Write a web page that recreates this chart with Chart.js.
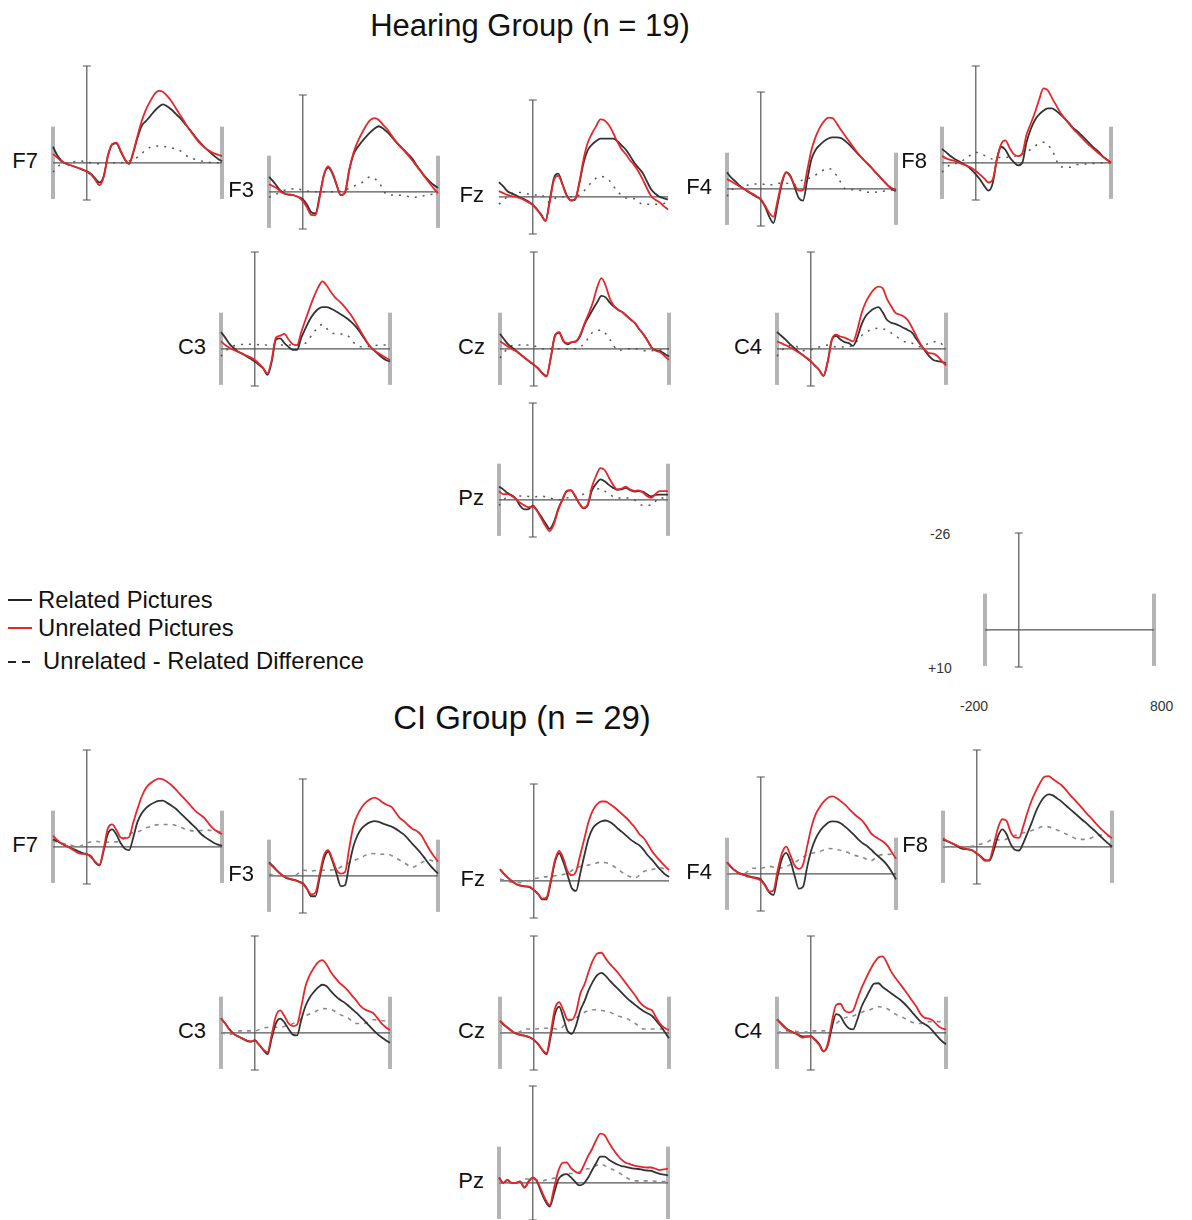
<!DOCTYPE html>
<html>
<head>
<meta charset="utf-8">
<script src="https://cdn.jsdelivr.net/npm/chart.js@4.4.0/dist/chart.umd.min.js"></script>
<style>
  body { margin: 0; background: #fff; }
  #page { position: relative; width: 1192px; height: 1220px; overflow: hidden; font-family: "Liberation Sans", Arial, sans-serif; color: #111; }
  canvas { position: absolute; }
  .title { position: absolute; font-size: 31px; white-space: nowrap; transform: translate(-50%, -50%); }
  .lab { position: absolute; font-size: 22px; line-height: 22px; text-align: right; white-space: nowrap; }
  .leg { position: absolute; font-size: 23.8px; line-height: 24px; white-space: nowrap; }
  .sw { position: absolute; height: 2px; }
  .tick { position: absolute; font-size: 14px; line-height: 14px; color: #333; white-space: nowrap; }
</style>
</head>
<body>
<div id="page">
  <div class="title" style="left:530px; top:26px;">Hearing Group (n = 19)</div>
  <div class="title" style="left:522px; top:718px; font-size:33px;">CI Group (n = 29)</div>

  <div class="sw" style="left:8px; top:599px; width:24px; background:#222;"></div>
  <div class="leg" style="left:38px; top:588px;">Related Pictures</div>
  <div class="sw" style="left:8px; top:627px; width:24px; background:#e8262a;"></div>
  <div class="leg" style="left:38px; top:616px;">Unrelated Pictures</div>
  <div class="sw" style="left:8px; top:661px; width:8px; background:#222;"></div>
  <div class="sw" style="left:22px; top:661px; width:8px; background:#222;"></div>
  <div class="leg" style="left:43px; top:649px;">Unrelated - Related Difference</div>

  <div class="tick" style="left:930px; top:527px;">-26</div>
  <div class="tick" style="left:928px; top:661px;">+10</div>
  <div class="tick" style="left:960px; top:699px;">-200</div>
  <div class="tick" style="left:1150px; top:699px;">800</div>
</div>
<script>
// time points (ms) for the waveforms and for the difference waves
const times = [-200,-175,-150,-125,-100,-75,-50,-25,0,25,50,75,100,125,150,175,200,225,250,275,
  300,325,350,375,400,425,450,475,500,525,550,575,600,625,650,675,700,725,750,775,800];
const diffTimes = [-200,-150,-100,-50,0,50,100,150,200,250,300,350,400,450,500,550,600,650,700,750,800];

// ---- Hearing group (µV) ----
const hearF7Rel = [-4.3,-2.0,-0.6,0.2,0.6,1.0,1.4,1.9,2.3,3.0,4.2,5.3,3.6,-1.8,-4.9,-5.2,-3.1,-0.9,0.3,-2.7,
  -6.7,-9.9,-11.2,-12.5,-13.9,-15.0,-15.7,-15.2,-14.3,-13.2,-12.1,-10.8,-9.4,-8.0,-6.5,-5.2,-4.0,-3.0,-2.0,-1.1,-0.4];
const hearF7Unrel = [-2.4,-1.4,-0.4,0.2,0.6,1.0,1.4,1.8,2.4,3.2,4.6,6.0,3.8,-2.0,-5.0,-5.4,-3.3,-1.0,0.2,-2.9,
  -7.2,-11.2,-14.3,-16.5,-18.4,-19.3,-19.1,-18.0,-16.6,-14.8,-13.0,-11.2,-9.4,-7.8,-6.3,-5.0,-4.0,-3.2,-2.6,-2.2,-1.8];
const hearF7Diff = [2.5,0.3,0,-0.5,-0.3,0.3,0.2,0,0,-0.5,-1.5,-3.5,-4.5,-4.4,-4.0,-3.3,-1.6,-0.8,-0.3,0,0];

const hearF3Rel = [-4.0,-2.8,-1.3,0.0,0.6,0.8,1.0,1.4,2.0,3.5,5.5,5.8,1.0,-4.5,-6.5,-4.9,-1.8,0.9,0.3,-5.8,
  -10.0,-12.0,-13.5,-14.8,-16.0,-17.0,-17.6,-17.0,-16.0,-14.8,-13.5,-12.3,-11.2,-10.0,-8.8,-7.0,-5.5,-4.0,-2.8,-1.8,-1.0];
const hearF3Unrel = [-2.0,-1.5,-0.8,0.2,0.6,0.8,1.0,1.5,2.5,4.2,6.2,6.3,1.5,-4.5,-6.8,-5.2,-2.0,0.9,0.0,-6.0,
  -10.5,-13.5,-15.8,-17.8,-19.3,-19.8,-19.3,-18.0,-16.8,-15.2,-13.6,-12.2,-11.0,-9.7,-8.3,-6.8,-5.3,-3.8,-2.3,-0.9,0.4];
const hearF3Diff = [1.5,0.5,-0.5,-0.8,-0.5,0,0,0,0,-0.5,-1.5,-2.5,-4.0,-2.5,0.8,0.9,1.0,1.5,1.2,0.8,0.5];

const hearFzRel = [-3.9,-2.8,-1.5,-0.9,-0.4,0.2,0.7,1.3,2.1,3.4,4.8,6.5,1.0,-5.0,-6.2,-3.5,-0.5,1.0,0.8,-3.5,
  -9.0,-12.5,-14.0,-15.0,-15.6,-15.6,-15.6,-15.6,-15.0,-13.8,-12.7,-11.0,-9.2,-7.8,-6.4,-4.2,-2.0,-0.8,0.0,0.4,0.7];
const hearFzUnrel = [-1.5,-1.0,-0.5,-0.2,0.0,0.4,0.9,1.5,2.2,3.5,5.0,6.5,1.5,-4.5,-5.6,-3.3,-0.3,0.9,0.6,-3.8,
  -10.0,-14.5,-17.0,-19.0,-20.8,-20.5,-19.3,-17.2,-14.8,-12.8,-11.5,-9.8,-8.5,-6.8,-4.7,-2.3,-0.2,0.8,1.5,2.5,3.4];
const hearFzDiff = [2.0,0,-1.2,-1.0,-0.5,-0.5,1.5,0,0,0,-1.5,-4.0,-5.5,-4.5,-1.5,0.3,0.5,2.0,2.0,2.0,1.5];

const hearF4Rel = [-4.4,-3.0,-2.0,-0.8,0.0,0.8,1.5,2.2,2.9,4.8,7.5,9.2,4.0,-1.5,-4.4,-3.5,-0.5,2.5,3.2,-2.5,
  -8.0,-10.5,-11.8,-12.8,-13.5,-13.8,-13.8,-13.6,-12.8,-11.8,-10.6,-9.3,-8.2,-7.0,-5.9,-4.6,-3.4,-2.2,-1.0,0.0,0.6];
const hearF4Unrel = [-2.6,-2.0,-1.3,-0.6,0.0,0.7,1.3,2.0,2.8,4.5,6.5,7.5,3.0,-2.0,-4.5,-3.2,-1.0,0.5,0.3,-5.0,
  -10.5,-14.0,-16.5,-18.2,-19.1,-19.0,-17.5,-15.8,-14.2,-12.6,-11.0,-9.5,-8.2,-7.0,-5.9,-4.6,-3.4,-2.2,-1.0,-0.2,0.4];
const hearF4Diff = [2.0,-0.5,-0.8,-1.2,-1.3,-1.0,-1.5,-1.5,-1.0,-2.5,-3.0,-4.5,-5.5,-3.5,0,0.3,0.5,1.0,0.8,0.5,0.2];

const hearF8Rel = [-3.7,-2.8,-1.8,-1.0,-0.4,0.3,0.9,1.9,3.1,4.5,6.2,7.5,5.5,-1.0,-4.3,-3.5,-1.5,-0.2,0.7,0.0,
  -5.5,-9.0,-11.5,-13.0,-14.0,-14.6,-14.6,-14.0,-13.0,-11.9,-10.7,-9.4,-8.5,-7.4,-6.3,-5.1,-4.0,-3.0,-1.8,-0.9,-0.1];
const hearF8Unrel = [-1.8,-1.2,-0.8,-0.5,0.0,0.4,0.9,1.4,2.2,3.2,4.2,5.3,4.5,-1.0,-5.0,-6.0,-4.0,-2.3,-1.8,-2.5,
  -7.5,-10.5,-13.5,-17.0,-20.0,-19.5,-17.5,-15.5,-13.5,-12.0,-10.6,-9.2,-8.0,-6.8,-5.6,-4.6,-3.6,-2.6,-1.7,-0.8,0.0];
const hearF8Diff = [2.5,0.5,0,-1.5,-2.8,-2.0,-1.0,-1.5,-1.5,-2.0,-2.8,-4.5,-5.5,-3.5,1.0,1.2,0.5,0.3,0.2,0,0];

const hearC3Rel = [-4.5,-3.0,-1.3,-0.2,0.7,1.3,2.0,2.7,3.4,4.3,5.3,7.0,3.5,-2.5,-2.8,-1.5,-0.5,0.3,0.3,-3.0,
  -5.5,-7.8,-9.5,-10.7,-11.2,-11.2,-10.8,-10.2,-9.5,-8.8,-8.0,-7.0,-5.8,-4.3,-2.6,-1.0,0.2,1.2,2.2,3.0,3.4];
const hearC3Unrel = [-2.0,-1.0,-0.3,0.3,0.8,1.3,1.8,2.3,3.0,4.0,5.2,6.6,3.0,-3.0,-3.5,-4.0,-2.5,-1.2,-1.0,-4.5,
  -7.8,-11.0,-14.0,-16.5,-18.1,-17.0,-15.3,-13.8,-12.8,-11.6,-10.2,-8.7,-6.8,-4.8,-2.9,-1.0,0.2,1.0,1.7,2.4,3.0];
const hearC3Diff = [2.0,-0.3,-1.0,-1.2,-1.2,-1.0,-1.0,-1.0,-1.0,-1.0,-1.5,-4.5,-6.5,-4.3,-4.0,-3.5,-1.0,-0.5,-0.8,-1.0,-1.0];

const hearCzRel = [-4.0,-2.5,-1.1,-0.2,0.7,1.7,2.6,3.5,4.3,5.2,6.5,7.3,2.5,-3.5,-4.3,-2.0,-1.2,-1.8,-2.0,-3.5,
  -6.5,-8.6,-10.6,-12.5,-14.2,-13.8,-12.4,-11.3,-10.5,-9.8,-8.8,-7.8,-6.8,-5.2,-3.8,-2.0,-0.2,0.4,0.7,1.4,2.1];
const hearCzUnrel = [-2.0,-1.3,-0.5,0.2,0.8,1.6,2.5,3.4,4.3,5.3,6.6,7.5,2.5,-3.5,-4.5,-2.2,-1.5,-1.8,-2.0,-3.8,
  -6.8,-9.5,-12.5,-16.5,-19.0,-17.0,-13.5,-11.5,-10.4,-9.8,-8.8,-7.8,-6.8,-5.2,-3.8,-2.0,-0.2,0.6,1.0,2.0,3.0];
const hearCzDiff = [2.5,-0.3,-1.0,-1.0,-0.8,0,0,0,0,0,-1.5,-4.5,-5.0,-2.5,0.5,0,0,0.5,0.5,0.3,0];

const hearC4Rel = [-4.5,-3.5,-2.5,-1.3,-0.3,0.7,1.6,2.5,3.4,4.6,5.7,7.3,3.5,-2.5,-3.5,-2.5,-1.8,-1.5,-0.8,-3.0,
  -6.5,-8.8,-10.0,-10.8,-11.2,-9.8,-7.8,-7.0,-6.7,-6.2,-5.6,-5.0,-4.3,-2.6,-1.0,0.5,2.0,3.0,3.3,3.5,3.9];
const hearC4Unrel = [-2.0,-1.5,-1.0,-0.4,0.2,0.9,1.6,2.4,3.3,4.5,5.7,7.3,3.5,-2.5,-3.8,-3.3,-3.0,-2.5,-2.0,-5.0,
  -9.5,-12.5,-14.5,-16.0,-16.7,-16.3,-13.5,-11.5,-9.7,-9.2,-8.7,-7.6,-5.6,-3.4,-1.2,0.3,1.2,1.3,2.0,3.3,4.5];
const hearC4Diff = [2.0,-0.5,-1.0,0.5,0.3,-0.5,-1.0,-0.5,-0.5,-1.0,-3.5,-5.0,-5.5,-5.0,-3.5,-2.0,-1.5,-0.5,-1.5,-2.0,0];

const hearPzRel = [-3.5,-2.8,-1.8,-1.2,-0.3,1.6,2.6,2.5,1.6,2.8,4.5,6.3,7.8,6.0,2.5,0.0,-2.2,-2.5,-1.0,1.0,
  2.3,1.5,-2.5,-4.3,-5.5,-5.0,-4.0,-3.2,-2.7,-2.8,-3.2,-2.6,-2.2,-2.3,-2.2,-1.5,-0.9,-1.3,-1.4,-1.4,-1.4];
const hearPzUnrel = [-2.3,-1.5,-1.5,-1.0,-0.2,0.8,1.5,2.0,1.8,3.0,5.0,7.0,8.4,6.5,2.8,0.0,-2.4,-2.6,-1.0,1.0,
  2.2,1.2,-3.5,-6.5,-8.5,-8.0,-6.0,-4.0,-2.8,-3.0,-3.5,-2.8,-2.4,-2.5,-2.0,-1.0,-0.5,-1.5,-2.3,-2.3,-2.3];
const hearPzDiff = [1.5,-0.8,-1.0,-1.0,-0.8,-1.0,-0.5,0,-0.5,-1.0,-1.5,-2.5,-3.0,-1.5,-0.5,-0.5,0,1.5,1.5,-0.5,-0.5];

// ---- CI group (µV) ----
const ciF7Rel = [-2.0,-1.5,-0.9,-0.3,0.2,0.7,1.2,1.7,2.0,2.5,4.2,5.0,1.0,-3.5,-4.7,-3.3,-1.0,0.5,0.9,-2.5,
  -6.7,-9.0,-10.4,-11.3,-11.9,-12.3,-12.4,-11.8,-11.1,-10.3,-9.2,-8.1,-7.0,-5.9,-4.8,-3.5,-2.6,-1.8,-1.1,-0.6,-0.3];
const ciF7Unrel = [-3.0,-1.8,-0.9,-0.3,0.3,1.0,1.7,1.9,2.0,2.8,4.0,4.8,0.5,-5.0,-6.0,-4.5,-2.5,-2.3,-2.6,-6.5,
  -10.2,-13.5,-15.8,-17.0,-17.8,-18.3,-18.1,-17.5,-16.6,-15.5,-14.2,-13.0,-11.8,-10.5,-9.3,-8.5,-7.5,-6.0,-4.8,-4.0,-3.4];
const ciF7Diff = [-1.6,-1.0,-0.5,0,-1.0,-1.5,-1.2,-1.3,-1.5,-3.5,-4.0,-5.0,-5.8,-6.0,-6.0,-5.3,-4.5,-4.2,-4.5,-4.3,-4.0];

const ciF3Rel = [-3.6,-2.5,-1.3,-0.3,0.5,0.9,1.1,1.5,2.0,3.5,5.5,5.5,0.5,-4.5,-6.5,-4.0,-0.5,2.8,2.5,-3.0,
  -8.0,-11.0,-12.8,-13.8,-14.4,-14.7,-14.5,-14.0,-13.6,-13.2,-12.6,-11.8,-11.0,-9.8,-8.5,-7.3,-6.0,-4.5,-3.0,-1.7,-0.6];
const ciF3Unrel = [-3.4,-2.3,-1.2,-0.2,0.5,0.9,1.2,1.6,2.2,3.5,5.0,4.5,-0.5,-5.5,-6.9,-4.5,-1.5,-0.6,-1.0,-7.5,
  -13.5,-16.5,-18.5,-19.8,-20.6,-21.0,-20.5,-19.6,-19.0,-18.5,-17.0,-15.5,-14.6,-13.5,-12.6,-12.0,-11.0,-9.0,-7.0,-5.3,-3.8];
const ciF3Diff = [-0.5,0,0,0,-1.5,-1.3,-1.5,-1.5,-1.8,-3.0,-4.0,-5.0,-6.0,-5.8,-5.8,-4.8,-3.5,-2.3,-3.5,-4.2,-3.5];

const ciFzRel = [-3.1,-1.8,-0.7,0.3,1.0,1.3,1.5,1.7,2.5,3.5,5.0,5.0,0.5,-5.0,-7.4,-5.0,-1.5,2.0,2.7,-2.0,
  -7.0,-11.5,-14.2,-15.3,-16.0,-16.2,-15.8,-15.0,-13.9,-13.0,-12.0,-11.0,-10.2,-9.5,-8.3,-6.8,-5.6,-4.2,-2.9,-1.8,-1.0];
const ciFzUnrel = [-3.1,-1.8,-0.7,0.2,1.0,1.4,1.5,1.6,2.5,3.5,4.8,4.5,0.0,-5.5,-8.0,-6.0,-2.5,-1.5,-2.5,-7.0,
  -11.5,-16.0,-19.0,-20.6,-21.3,-21.3,-20.6,-19.8,-18.8,-17.8,-16.8,-15.5,-14.2,-12.5,-11.5,-9.8,-7.9,-6.5,-5.2,-4.0,-2.9];
const ciFzDiff = [-0.5,0.2,0.5,0.3,-0.5,-1.0,-1.2,-1.5,-2.0,-3.5,-4.0,-4.5,-5.0,-4.5,-3.0,-1.5,-0.8,-2.5,-3.0,-3.5,-2.5];

const ciF4Rel = [-3.1,-1.8,-0.8,-0.1,0.3,0.6,0.9,1.1,1.5,3.0,5.0,5.7,0.5,-4.0,-5.6,-3.5,0.5,4.0,3.5,-2.0,
  -6.5,-9.5,-11.5,-12.8,-13.8,-14.1,-14.0,-13.5,-12.6,-11.6,-10.5,-9.3,-8.3,-7.6,-6.6,-5.5,-4.5,-3.5,-2.2,-0.5,1.5];
const ciF4Unrel = [-3.1,-1.8,-0.8,-0.1,0.3,0.8,1.0,1.3,1.8,3.2,4.8,4.5,-1.0,-5.5,-7.3,-5.0,-2.2,-1.3,-2.5,-7.5,
  -12.6,-16.0,-18.0,-19.5,-20.5,-20.8,-20.3,-19.4,-18.5,-17.3,-16.2,-15.2,-14.3,-12.8,-11.0,-10.0,-9.3,-8.6,-7.5,-5.8,-4.0];
const ciF4Diff = [0,0,0,-1.5,-1.5,-2.0,-1.5,-2.0,-3.0,-4.5,-5.5,-6.0,-6.8,-6.5,-6.0,-5.0,-4.5,-3.5,-5.0,-5.2,-5.3];

const ciF8Rel = [-1.9,-1.5,-1.0,-0.4,0.3,0.6,0.7,1.0,1.8,2.6,3.6,3.7,1.0,-2.8,-4.7,-3.5,-0.8,0.8,1.0,-1.0,
  -3.7,-6.5,-9.5,-11.8,-13.4,-14.1,-13.8,-13.0,-12.2,-11.2,-10.2,-9.2,-8.2,-7.2,-6.3,-5.2,-4.2,-3.1,-2.0,-1.0,0.0];
const ciF8Unrel = [-2.3,-1.5,-1.0,-0.5,0.0,0.4,0.7,1.0,1.8,2.8,3.8,3.5,-0.5,-5.0,-7.4,-7.0,-4.0,-2.5,-2.4,-5.5,
  -9.3,-12.5,-15.0,-17.2,-18.8,-19.0,-18.2,-17.4,-16.6,-15.4,-14.0,-12.8,-11.6,-10.3,-9.0,-7.8,-6.5,-5.3,-4.2,-3.2,-2.3];
const ciF8Diff = [0,0,0,0,-0.5,-1.0,-2.0,-1.8,-2.5,-3.5,-4.0,-4.8,-5.5,-5.0,-4.0,-3.0,-2.0,-2.0,-2.8,-3.2,-2.5];

const ciC3Rel = [-3.9,-2.5,-0.9,0.3,0.9,1.5,2.1,2.4,2.0,3.2,4.6,5.8,1.5,-2.5,-3.8,-2.8,-1.0,0.5,0.7,-3.5,
  -7.2,-9.5,-11.0,-12.2,-12.9,-12.5,-11.2,-10.0,-9.0,-8.3,-7.4,-6.4,-5.4,-4.3,-3.2,-2.0,-0.8,0.3,1.2,2.0,2.7];
const ciC3Unrel = [-3.9,-2.5,-0.9,0.3,1.0,1.5,2.0,2.3,2.2,3.2,4.5,5.2,0.5,-4.5,-6.0,-4.5,-2.5,-1.8,-2.2,-7.0,
  -12.5,-15.5,-17.5,-19.0,-19.5,-18.3,-16.3,-14.8,-13.5,-12.5,-11.4,-10.0,-8.7,-7.2,-6.3,-5.8,-5.3,-4.0,-2.5,-1.5,-0.7];
const ciC3Diff = [0,0.5,-0.5,-0.5,-0.5,-1.3,-1.5,-1.5,-2.0,-3.0,-4.5,-5.5,-6.5,-6.3,-5.0,-4.0,-2.5,-2.5,-3.5,-3.3,-3.0];

const ciCzRel = [-3.2,-2.1,-1.2,-0.3,0.3,0.6,0.8,1.2,1.9,3.0,4.6,5.8,1.0,-5.0,-7.0,-4.0,-0.5,0.3,-2.0,-6.0,
  -8.5,-11.5,-13.8,-15.5,-16.1,-15.3,-14.0,-12.8,-11.7,-10.5,-9.4,-8.4,-7.5,-6.6,-5.8,-5.2,-4.5,-3.2,-1.8,-0.2,1.5];
const ciCzUnrel = [-3.2,-2.1,-1.2,-0.3,0.3,0.6,0.8,1.2,1.9,3.0,4.5,5.5,0.0,-6.5,-8.2,-6.0,-3.5,-3.5,-5.5,-10.5,
  -13.0,-16.5,-19.5,-21.3,-21.5,-20.0,-18.5,-17.3,-16.0,-14.5,-13.0,-11.5,-10.0,-8.3,-7.2,-6.5,-6.0,-4.0,-2.3,-1.3,-0.7];
const ciCzDiff = [0,0,0,-1.0,-1.0,-1.2,-1.2,-1.0,-3.0,-4.0,-5.5,-6.2,-6.0,-5.5,-4.5,-3.8,-2.5,-1.0,-1.0,-1.0,-1.0];

const ciC4Rel = [-3.6,-2.5,-1.4,-0.6,0.0,0.5,1.0,1.0,0.9,1.8,3.0,5.0,3.5,-1.5,-5.0,-4.5,-2.5,-1.2,-0.9,-3.5,
  -7.0,-9.3,-11.5,-13.2,-13.3,-12.3,-11.5,-10.6,-9.8,-9.0,-8.0,-6.8,-5.5,-4.2,-3.0,-2.3,-1.5,-0.3,1.0,2.2,3.1];
const ciC4Unrel = [-3.6,-2.3,-1.2,-0.5,0.0,0.6,1.3,1.0,1.0,2.0,3.3,5.0,3.0,-3.0,-7.5,-7.8,-6.0,-5.5,-6.0,-9.0,
  -12.0,-14.5,-16.8,-18.8,-20.2,-20.5,-18.8,-16.5,-14.8,-13.3,-11.8,-10.2,-8.6,-7.0,-5.0,-4.0,-3.8,-3.2,-2.0,-1.2,-0.9];
const ciC4Diff = [0,-0.5,-0.5,0,-0.5,-0.5,-0.5,-2.5,-4.0,-4.5,-5.5,-6.2,-7.0,-6.5,-5.0,-4.0,-2.8,-2.5,-3.0,-3.0,-3.0];

const ciPzRel = [-1.4,0.0,-0.8,0.0,0.0,-0.3,1.3,-0.3,-1.4,-0.3,2.5,5.0,6.4,3.0,-0.8,-2.0,-2.3,-1.5,-0.3,0.7,
  0.3,-1.2,-3.3,-5.3,-7.0,-7.0,-6.2,-5.5,-4.9,-4.5,-4.3,-4.0,-3.8,-3.7,-3.5,-3.3,-3.2,-2.8,-2.4,-2.2,-2.0];
const ciPzUnrel = [-1.4,0.0,-0.8,0.0,0.0,-0.3,1.3,-0.3,-1.4,-0.5,2.0,4.5,6.0,1.5,-3.0,-5.3,-5.5,-4.0,-3.0,-2.5,
  -4.5,-7.0,-9.0,-11.5,-13.2,-12.8,-10.8,-9.0,-7.5,-6.2,-5.4,-5.0,-4.6,-4.4,-4.2,-4.1,-4.1,-3.8,-3.4,-3.6,-3.8];
const ciPzDiff = [0,0,0,-1.0,-1.0,-0.5,-1.0,-1.5,-2.5,-2.5,-3.5,-4.0,-5.0,-4.0,-3.0,-1.5,-0.5,-0.5,-0.5,-0.3,-0.3];

// panel placement: x pixel of -200 ms and y pixel of 0 µV
const PW = 169, PH = 134, PAD = 8;
const panels = [
  { name: 'F7', left: 53,  zero: 163, rel: hearF7Rel, unrel: hearF7Unrel, diff: hearF7Diff, bars: true,  ci: false },
  { name: 'F3', left: 269, zero: 192, rel: hearF3Rel, unrel: hearF3Unrel, diff: hearF3Diff, bars: true,  ci: false },
  { name: 'Fz', left: 499, zero: 197, rel: hearFzRel, unrel: hearFzUnrel, diff: hearFzDiff, bars: false, ci: false },
  { name: 'F4', left: 727, zero: 189, rel: hearF4Rel, unrel: hearF4Unrel, diff: hearF4Diff, bars: true,  ci: false },
  { name: 'F8', left: 942, zero: 163, rel: hearF8Rel, unrel: hearF8Unrel, diff: hearF8Diff, bars: true,  ci: false },
  { name: 'C3', left: 221, zero: 349, rel: hearC3Rel, unrel: hearC3Unrel, diff: hearC3Diff, bars: true,  ci: false },
  { name: 'Cz', left: 500, zero: 349, rel: hearCzRel, unrel: hearCzUnrel, diff: hearCzDiff, bars: true,  ci: false },
  { name: 'C4', left: 777, zero: 349, rel: hearC4Rel, unrel: hearC4Unrel, diff: hearC4Diff, bars: true,  ci: false },
  { name: 'Pz', left: 499, zero: 500, rel: hearPzRel, unrel: hearPzUnrel, diff: hearPzDiff, bars: true,  ci: false },
  { name: 'F7', left: 53,  zero: 847, rel: ciF7Rel, unrel: ciF7Unrel, diff: ciF7Diff, bars: true,  ci: true },
  { name: 'F3', left: 269, zero: 876, rel: ciF3Rel, unrel: ciF3Unrel, diff: ciF3Diff, bars: true,  ci: true },
  { name: 'Fz', left: 500, zero: 881, rel: ciFzRel, unrel: ciFzUnrel, diff: ciFzDiff, bars: false, ci: true },
  { name: 'F4', left: 727, zero: 874, rel: ciF4Rel, unrel: ciF4Unrel, diff: ciF4Diff, bars: true,  ci: true },
  { name: 'F8', left: 943, zero: 847, rel: ciF8Rel, unrel: ciF8Unrel, diff: ciF8Diff, bars: true,  ci: true },
  { name: 'C3', left: 221, zero: 1033, rel: ciC3Rel, unrel: ciC3Unrel, diff: ciC3Diff, bars: true, ci: true },
  { name: 'Cz', left: 500, zero: 1033, rel: ciCzRel, unrel: ciCzUnrel, diff: ciCzDiff, bars: true, ci: true },
  { name: 'C4', left: 777, zero: 1033, rel: ciC4Rel, unrel: ciC4Unrel, diff: ciC4Diff, bars: true, ci: true },
  { name: 'Pz', left: 499, zero: 1183, rel: ciPzRel, unrel: ciPzUnrel, diff: ciPzDiff, bars: true, ci: true }
];

const page = document.getElementById('page');

function toPoints(xs, ys) {
  return ys.map((v, i) => ({ x: xs[i], y: v }));
}

function axesPlugin(withBars) {
  return {
    id: 'erpAxes',
    beforeDatasetsDraw(chart) {
      const ctx = chart.ctx, x = chart.scales.x, y = chart.scales.y;
      const xl = x.getPixelForValue(-200), xr = x.getPixelForValue(800), x0 = x.getPixelForValue(0);
      const yt = y.getPixelForValue(-26), yb = y.getPixelForValue(10), y0 = y.getPixelForValue(0);
      ctx.save();
      if (withBars) {
        ctx.strokeStyle = '#b4b4b4';
        ctx.lineWidth = 4;
        [xl, xr].forEach(px => {
          ctx.beginPath();
          ctx.moveTo(px, y.getPixelForValue(-9.7));
          ctx.lineTo(px, y.getPixelForValue(9.7));
          ctx.stroke();
        });
      }
      ctx.strokeStyle = '#555';
      ctx.lineWidth = 1.2;
      ctx.beginPath();
      ctx.moveTo(xl, y0); ctx.lineTo(xr, y0);
      ctx.moveTo(x0, yt); ctx.lineTo(x0, yb);
      ctx.moveTo(x0 - 4, yt); ctx.lineTo(x0 + 4, yt);
      ctx.moveTo(x0 - 4, yb); ctx.lineTo(x0 + 4, yb);
      ctx.stroke();
      ctx.restore();
    }
  };
}

function makeCanvas(left, zero) {
  const c = document.createElement('canvas');
  const top = zero - 26 * PH / 36;
  c.width = PW + 2 * PAD;
  c.height = PH + 2 * PAD;
  c.style.left = (left - PAD) + 'px';
  c.style.top = (top - PAD) + 'px';
  c.style.width = c.width + 'px';
  c.style.height = c.height + 'px';
  page.appendChild(c);
  return c;
}

function baseOptions() {
  return {
    responsive: false,
    animation: false,
    events: [],
    layout: { padding: PAD },
    plugins: { legend: { display: false }, tooltip: { enabled: false } },
    elements: { point: { radius: 0 } },
    scales: {
      x: { type: 'linear', min: -200, max: 800, display: false },
      y: { min: -26, max: 10, reverse: true, display: false }
    }
  };
}

panels.forEach(p => {
  const c = makeCanvas(p.left, p.zero);
  new Chart(c, {
    type: 'line',
    data: {
      datasets: [
        { label: 'Unrelated Pictures', data: toPoints(times, p.unrel), borderColor: '#e8262a', borderWidth: 1.8,
          cubicInterpolationMode: 'monotone', clip: false },
        { label: 'Related Pictures', data: toPoints(times, p.rel), borderColor: '#333333', borderWidth: 1.8,
          cubicInterpolationMode: 'monotone', clip: false },
        { label: 'Unrelated - Related Difference', data: toPoints(diffTimes, p.diff),
          borderColor: p.ci ? '#8a8a8a' : '#555555', borderWidth: p.ci ? 1.6 : 1.5,
          borderDash: p.ci ? [4, 5] : [2, 6], cubicInterpolationMode: 'monotone', clip: false }
      ]
    },
    options: baseOptions(),
    plugins: [axesPlugin(p.bars)]
  });

  const lab = document.createElement('div');
  lab.className = 'lab';
  lab.textContent = p.name;
  lab.style.right = (1192 - (p.left - 15)) + 'px';
  lab.style.top = (p.zero - 2 - 11) + 'px';
  page.appendChild(lab);
});

// calibration panel
const sc = makeCanvas(985, 630);
new Chart(sc, {
  type: 'line',
  data: { datasets: [] },
  options: baseOptions(),
  plugins: [axesPlugin(true)]
});
</script>
</body>
</html>
